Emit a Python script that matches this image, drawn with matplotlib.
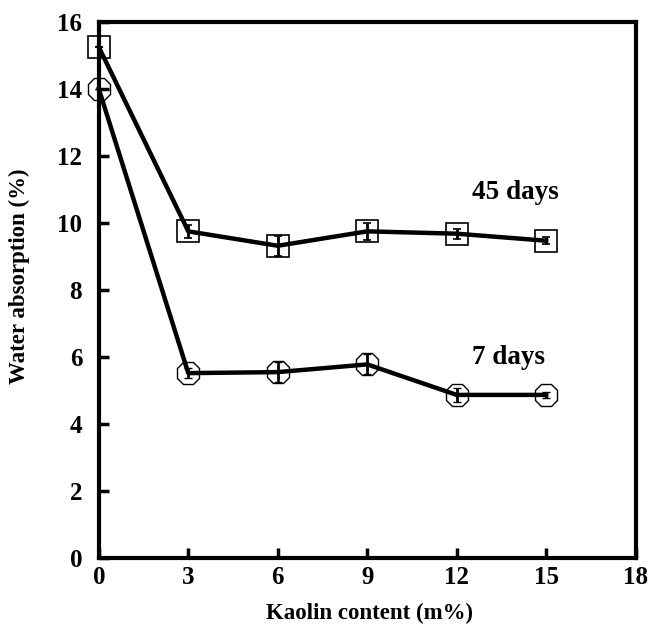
import matplotlib
matplotlib.use("Agg")
import matplotlib.pyplot as plt

kaolin = [0, 3, 6, 9, 12, 15]
days45 = [15.25, 9.75, 9.32, 9.75, 9.68, 9.47]
days45_err = [0.0, 0.2, 0.3, 0.25, 0.15, 0.1]
days7 = [14.0, 5.52, 5.55, 5.78, 4.87, 4.87]
days7_err = [0.0, 0.15, 0.3, 0.3, 0.2, 0.1]
xticks = [0, 3, 6, 9, 12, 15, 18]
yticks = [0, 2, 4, 6, 8, 10, 12, 14, 16]

plt.rcParams['font.family'] = ['Liberation Serif', 'DejaVu Serif']
plt.rcParams['font.weight'] = 'bold'

fig = plt.figure(figsize=(6.5, 6.25), dpi=100)
ax = fig.add_axes([0.152, 0.107, 0.826, 0.858])

ax.errorbar(kaolin, days45, yerr=days45_err, color='black', lw=3.2,
            marker='s', ms=16, mfc='none', mec='black', mew=1.2,
            capsize=3, elinewidth=2, capthick=2, clip_on=False, zorder=3)
ax.errorbar(kaolin, days7, yerr=days7_err, color='black', lw=3.2,
            marker='8', ms=17, mfc='none', mec='black', mew=1.0,
            capsize=3, elinewidth=2, capthick=2, clip_on=False, zorder=3)

ax.text(13.95, 10.9, '45 days', fontsize=19.5, fontweight='bold', ha='center', va='center')
ax.text(13.75, 6.0, '7 days', fontsize=19.5, fontweight='bold', ha='center', va='center')

ax.set_xlim(0, 18)
ax.set_ylim(0, 16)
ax.set_xticks(xticks)
ax.set_yticks(yticks)
ax.tick_params(direction='in', length=7, width=2.5, labelsize=18, top=False, right=False)
ax.tick_params(axis='x', pad=6)
ax.tick_params(axis='y', pad=12)
for lab in ax.get_xticklabels() + ax.get_yticklabels():
    lab.set_fontweight('bold')
for s in ax.spines.values():
    s.set_linewidth(3)

ax.set_xlabel('Kaolin content (m%)', fontsize=16.5, fontweight='bold')
ax.set_ylabel('Water absorption (%)', fontsize=16.5, fontweight='bold')
ax.xaxis.set_label_coords(0.505, -0.084)
ax.yaxis.set_label_coords(-0.128, 0.525)

fig.savefig('out.png', dpi=100)
